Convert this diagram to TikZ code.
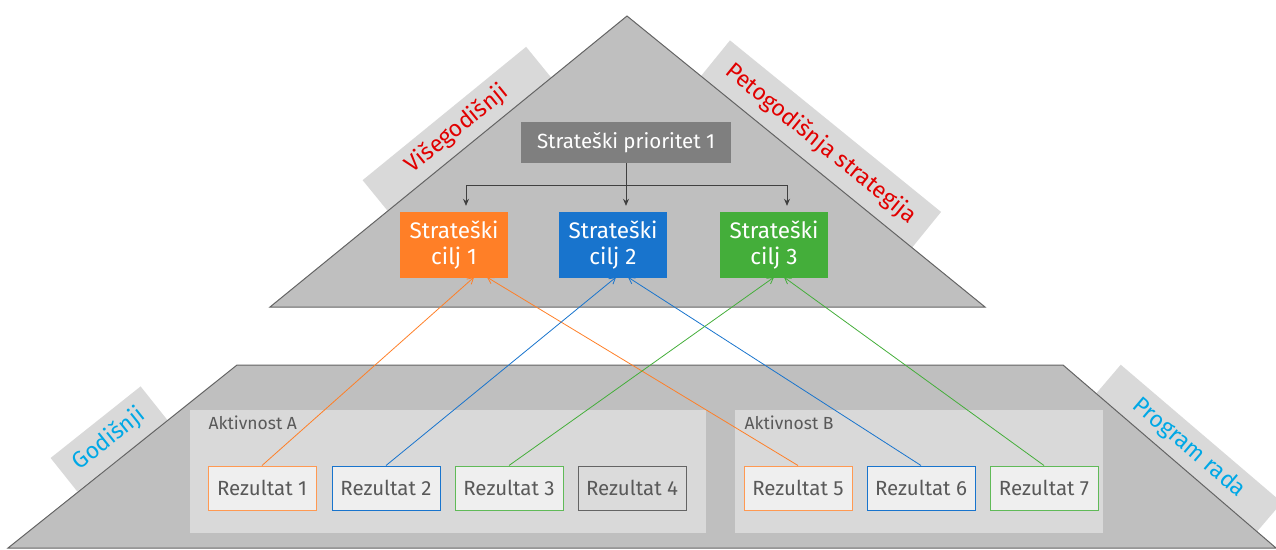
\documentclass[tikz,border=0pt]{standalone}
\usepackage{fontspec}
\setmainfont{Fira Sans}
\usetikzlibrary{arrows.meta}

\definecolor{pyramid}{RGB}{191,191,191}
\definecolor{edgegray}{RGB}{100,100,100}
\definecolor{tabgray}{RGB}{217,217,217}
\definecolor{boxfill}{RGB}{239,239,239}
\definecolor{txtgray}{RGB}{89,89,89}
\definecolor{priogray}{RGB}{127,127,127}
\definecolor{ciljorange}{RGB}{255,127,39}
\definecolor{ciljblue}{RGB}{24,116,205}
\definecolor{ciljgreen}{RGB}{68,174,58}
\definecolor{tabred}{RGB}{225,0,0}
\definecolor{tabcyan}{RGB}{0,168,230}

\begin{document}
\begin{tikzpicture}[x=1pt,y=-1pt,
        tab/.style={fill=tabgray,minimum width=#1,minimum height=40pt,inner sep=0pt,font=\fontsize{23}{25}\selectfont},
        cilj/.style={fill=#1,minimum width=108pt,minimum height=66pt,inner sep=0pt,align=center,text=white,font=\fontsize{22.5}{26}\selectfont},
        rez/.style={draw=#1,line width=1pt,fill=boxfill,minimum width=108pt,minimum height=44pt,inner sep=0pt,text=txtgray,font=\fontsize{20.5}{22}\selectfont},
        akt/.style={fill=tabgray,inner sep=0pt},
        down/.style={black!75,line width=0.8pt,-{Stealth[length=7pt,width=6pt]},shorten >=6pt},
        link/.style={draw=#1,line width=0.8pt,-{Straight Barb[length=6pt,width=7pt]}}]
        \useasboundingbox (0,0) rectangle (1276,549);
        \clip (0,0) rectangle (1276,549);
        % tabs behind the shapes
        \node[tab=211pt,rotate=39.2,text=tabred] (vise) at (457,129) {Višegodišnji};
        \node[tab=272pt,minimum height=46pt,rotate=-39.1,text=tabred] (peto) at (821,144) {Petogodišnja strategija};
        \node[tab=115pt,minimum height=43pt,rotate=38.5,text=tabcyan] (god) at (109,439) {Godišnji};
        \node[tab=212pt,minimum height=38pt,rotate=-40.5,text=tabcyan] (prog) at (1189,448) {Program rada};
        % pyramid and base
        \draw[edgegray,fill=pyramid,line width=1pt] (627,16) -- (985,307) -- (270,307) -- cycle;
        \draw[edgegray,fill=pyramid,line width=1pt] (237,365) -- (1063,365) -- (1276,548) -- (8,548) -- cycle;
        % activities
        \node[akt,minimum width=516pt,minimum height=123pt] (aktA) at (448,471.5) {};
        \node[akt,minimum width=368pt,minimum height=123pt] (aktB) at (919,471.5) {};
        \node[anchor=west,text=txtgray,font=\fontsize{17.5}{19}\selectfont] (aktAl) at (205,423) {Aktivnost A};
        \node[anchor=west,text=txtgray,font=\fontsize{17.5}{19}\selectfont] (aktBl) at (741,423) {Aktivnost B};
        % priority and goals
        \node[fill=priogray,minimum width=210pt,minimum height=41pt,text=white,font=\fontsize{20.5}{22}\selectfont] (prio) at (626,142.5) {Strateški prioritet 1};
        \node[cilj=ciljorange] (c1) at (454,245) {Strateški\\cilj 1};
        \node[cilj=ciljblue] (c2) at (613,245) {Strateški\\cilj 2};
        \node[cilj=ciljgreen] (c3) at (774,245) {Strateški\\cilj 3};
        \draw[down] (prio.south) -- ++(0,22) -| ([xshift=12pt]c1.north);
        \draw[down] (prio.south) -- (prio.south |- c2.north);
        \draw[down] (prio.south) -- ++(0,22) -| ([xshift=13pt]c3.north);
        % results
        \node[rez=ciljorange!80] (r1) at (262,488) {Rezultat 1};
        \node[rez=ciljblue] (r2) at (386,488) {Rezultat 2};
        \node[rez=ciljgreen!85] (r3) at (509,488) {Rezultat 3};
        \node[rez=edgegray,fill=tabgray!90!boxfill] (r4) at (632,488) {Rezultat 4};
        \node[rez=ciljorange!80] (r5) at (798,488) {Rezultat 5};
        \node[rez=ciljblue] (r6) at (921,488) {Rezultat 6};
        \node[rez=ciljgreen!85] (r7) at (1044,488) {Rezultat 7};
        % links up to the goals
        \draw[link=ciljorange] (r1.north) -- ([xshift=20pt,yshift=1pt]c1.south);
        \draw[link=ciljorange] (r5.north) -- ([xshift=33pt,yshift=1pt]c1.south);
        \draw[link=ciljblue] (r2.north) -- ([xshift=3pt,yshift=1pt]c2.south);
        \draw[link=ciljblue] (r6.north) -- ([xshift=15pt,yshift=1pt]c2.south);
        \draw[link=ciljgreen] (r3.north) -- ([xshift=0pt,yshift=1pt]c3.south);
        \draw[link=ciljgreen] (r7.north) -- ([xshift=10pt,yshift=1pt]c3.south);
\end{tikzpicture}
\end{document}
